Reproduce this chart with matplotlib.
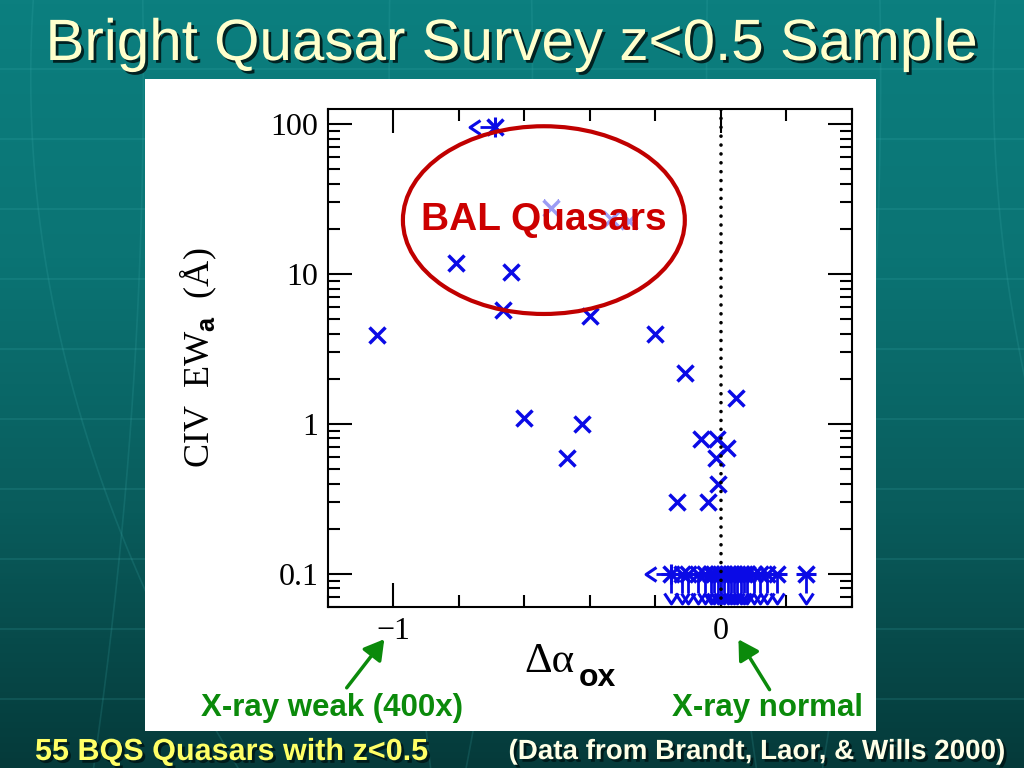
import numpy as np
import matplotlib
matplotlib.use("Agg")
import matplotlib.pyplot as plt
import matplotlib.patheffects as pe
from matplotlib.patches import Ellipse, Rectangle, FancyArrowPatch
from matplotlib.path import Path
from matplotlib.markers import MarkerStyle, CARETDOWNBASE, CARETLEFTBASE
from matplotlib.colors import LinearSegmentedColormap
from matplotlib.ticker import FixedLocator, MultipleLocator, LogLocator, FuncFormatter, NullFormatter

# detected CIV EW vs delta alpha_ox
det_dax = [-1.05, -0.81, -0.64, -0.665, -0.60, -0.425, -0.47, -0.40, -0.52, -0.335, -0.28,
           -0.20, -0.11, 0.046, -0.062, -0.012, 0.017, -0.016, -0.009, -0.135, -0.039]
det_ew = [3.9, 11.8, 10.3, 5.75, 1.1, 1.0, 0.59, 5.25, 27.7, 23.1, 22.4,
          4.0, 2.2, 1.49, 0.79, 0.79, 0.69, 0.59, 0.40, 0.30, 0.30]

# x-ray upper limit only (arrow to the left)
xul_dax = [-0.69]
xul_ew = [95.0]

# CIV EW upper limits (arrow down)
ewul_dax = [-0.12, -0.10, -0.07, -0.05, -0.03, -0.02, -0.01, 0.0, 0.01, 0.02, 0.03,
            0.04, 0.05, 0.06, 0.07, 0.08, 0.10, 0.12, 0.14, 0.17, 0.26]
ewul_ew = [0.1] * len(ewul_dax)

# both limits
both_dax = [-0.152]
both_ew = [0.1]

blue = "#0a0ae6"
green = "#0b8a0b"

plt.rcParams["font.family"] = ["Liberation Serif", "DejaVu Serif"]
plt.rcParams["mathtext.fontset"] = "custom"
plt.rcParams["mathtext.rm"] = "Liberation Serif"
plt.rcParams["mathtext.bf"] = "Liberation Sans:bold"

fig = plt.figure(figsize=(10.24, 7.68), dpi=100)

# slide background
bg = fig.add_axes([0, 0, 1, 1], zorder=-10)
grad = np.linspace(0, 1, 256)[:, None]
cmap = LinearSegmentedColormap.from_list("slide", ["#053a3a", "#095c5c", "#0b7474", "#0c7f7f"])
bg.imshow(grad, aspect="auto", cmap=cmap, extent=[0, 1, 0, 1], origin="lower")
for yy in np.arange(1 - 69 / 768, 0, -70 / 768):
    bg.axhline(yy, color="#3fb0b0", lw=1.2, alpha=0.2)
ys = np.linspace(0, 1, 200)
for xc, k in [(0.03, 0.25), (0.14, -0.06), (0.38, 0.05), (0.52, -0.08), (0.69, 0.06), (0.86, -0.07), (0.97, 0.2)]:
    bg.plot(xc + k * (ys - 0.9) ** 2, ys, color="#3fb0b0", lw=1.2, alpha=0.18)
bg.set_xlim(0, 1)
bg.set_ylim(0, 1)
bg.axis("off")

# white panel
fig.add_artist(Rectangle((145 / 1024, 1 - 731 / 768), 731 / 1024, 652 / 768,
                         transform=fig.transFigure, facecolor="white", edgecolor="none", zorder=-5))

ax = fig.add_axes([0.3203, 0.2096, 0.5117, 0.6484])
ax.set_facecolor("white")
ax.set_yscale("log")
ax.set_xlim(-1.2, 0.4)
ax.set_ylim(0.06, 126)

all_x = det_dax + xul_dax + ewul_dax + both_dax
all_y = det_ew + xul_ew + ewul_ew + both_ew
ax.plot(all_x, all_y, "x", color=blue, ms=11, mew=2.5, zorder=2.5)

lim_kw = dict(fmt="none", ecolor=blue, elinewidth=2, capsize=7.5, capthick=2, zorder=2.5)
conts = [
    ax.errorbar(xul_dax, xul_ew, xerr=0.046, xuplims=True, **lim_kw),
    ax.errorbar(ewul_dax, ewul_ew, yerr=0.0254, uplims=True, **lim_kw),
    ax.errorbar(both_dax, both_ew, xerr=0.046, yerr=0.0254, xuplims=True, uplims=True, **lim_kw),
]
# open chevron arrow heads
open_down = MarkerStyle(Path([[-1, 0], [0, -1.5], [1, 0]]), fillstyle="none")
open_left = MarkerStyle(Path([[0, 1], [-1.5, 0], [0, -1]]), fillstyle="none")
for c in conts:
    for cap in c[1]:
        m = cap.get_marker()
        if m == CARETDOWNBASE:
            cap.set_marker(open_down)
        elif m == CARETLEFTBASE:
            cap.set_marker(open_left)
        cap.set_markeredgecolor(blue)
        cap.set_markeredgewidth(2.2)

ax.axvline(0, color="k", lw=2.6, ls=(0, (0.01, 2.45)), dash_capstyle="round", zorder=3)

ax.xaxis.set_major_locator(FixedLocator([-1, 0]))
ax.xaxis.set_minor_locator(MultipleLocator(0.2))
ax.yaxis.set_major_locator(FixedLocator([0.1, 1, 10, 100]))
ax.yaxis.set_minor_locator(LogLocator(subs=np.arange(2, 10)))
ax.yaxis.set_minor_formatter(NullFormatter())
fmt = FuncFormatter(lambda v, p: f"{v:g}".replace("-", "\u2212"))
ax.xaxis.set_major_formatter(fmt)
ax.yaxis.set_major_formatter(fmt)
ax.tick_params(which="both", direction="in", top=True, right=True, width=1.5, labelsize=23)
ax.tick_params(which="major", length=17, pad=7)
ax.tick_params(which="minor", length=8.5)
for s in ax.spines.values():
    s.set_linewidth(1.5)

ax.set_ylabel("CIV  EW$_{\\mathbf{a}}$  (\u00c5)", fontsize=26)
ax.yaxis.set_label_coords(-0.208, 0.5)

# BAL annotation
ax.add_patch(Ellipse((0.412, 0.777), 0.538, 0.377, transform=ax.transAxes, fill=False,
                     edgecolor="#c00000", lw=3, zorder=4, clip_on=False))
ax.text(0.412, 0.778, "BAL Quasars", transform=ax.transAxes, ha="center", va="center",
        fontsize=28, fontweight="bold", color="#cc0000", family="Liberation Sans", zorder=5,
        bbox=dict(facecolor="white", alpha=0.6, edgecolor="none", pad=1))

# x label
fig.text(524 / 1024, 1 - 672 / 768, "\u0394\u03b1", fontsize=31, ha="left", va="baseline",
         family="Liberation Serif")
fig.text(579 / 1024, 1 - 686 / 768, "ox", fontsize=23, ha="left", va="baseline",
         family="Liberation Sans", fontweight="bold")

# green arrows and labels
arr = dict(arrowstyle="-|>,head_length=0.6,head_width=0.35", color=green, lw=2.5)
fig.add_artist(FancyArrowPatch((345 / 1024, 1 - 690 / 768), (386 / 1024, 1 - 637 / 768),
                               transform=fig.transFigure, mutation_scale=20, **arr))
fig.add_artist(FancyArrowPatch((771 / 1024, 1 - 692 / 768), (737 / 1024, 1 - 637 / 768),
                               transform=fig.transFigure, mutation_scale=20, **arr))
fig.text(332 / 1024, 1 - 708 / 768, "X-ray weak (400x)", fontsize=22.5, fontweight="bold",
         color=green, family="Liberation Sans", ha="center", va="center")
fig.text(768 / 1024, 1 - 708 / 768, "X-ray normal", fontsize=22.5, fontweight="bold",
         color=green, family="Liberation Sans", ha="center", va="center")

shadow = [pe.SimplePatchShadow(offset=(2, -2), shadow_rgbFace="#001818", alpha=0.9), pe.Normal()]
fig.text(0.5, 1 - 45 / 768, "Bright Quasar Survey z<0.5 Sample", fontsize=42, color="#ffffcc",
         family="Liberation Sans", ha="center", va="center", path_effects=shadow)
fig.text(35 / 1024, 1 - 752 / 768, "55 BQS Quasars with z<0.5", fontsize=22, fontweight="bold",
         color="#ffff66", family="Liberation Sans", ha="left", va="center", path_effects=shadow)
fig.text(1005 / 1024, 1 - 752 / 768, "(Data from Brandt, Laor, & Wills 2000)", fontsize=20,
         fontweight="bold", color="#ffffe6", family="Liberation Sans", ha="right", va="center",
         path_effects=shadow)

fig.savefig("out.png", dpi=100)
